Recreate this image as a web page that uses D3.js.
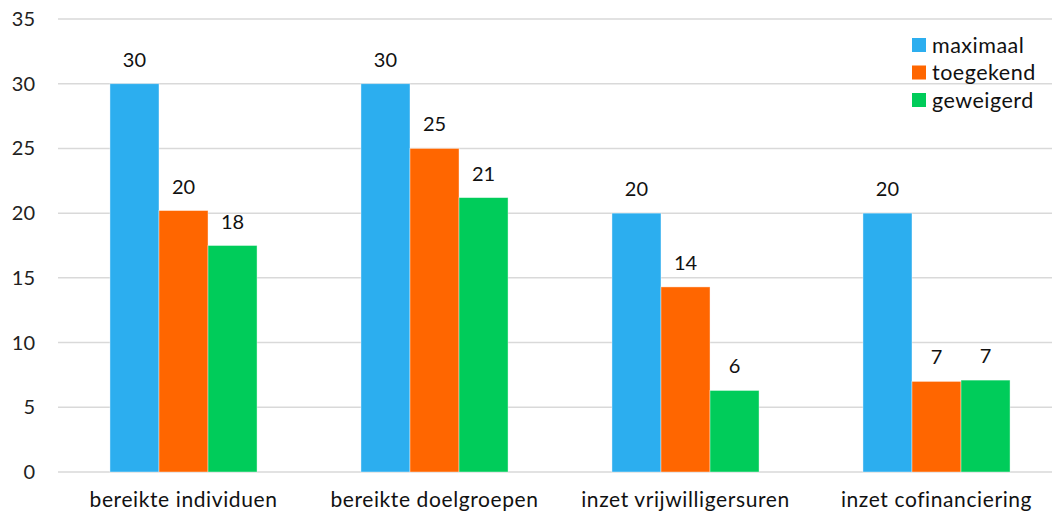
<!DOCTYPE html>
<html><head><meta charset="utf-8">
<script src="https://cdn.jsdelivr.net/npm/d3@7"></script>
<style>body{margin:0;background:#fff}svg{display:block;font-family:Lato,"Open Sans",sans-serif}</style>
</head><body><svg id="c" width="1052" height="516"></svg>
<script>
const categories = ["bereikte individuen","bereikte doelgroepen","inzet vrijwilligersuren","inzet cofinanciering"];
const seriesNames = ["maximaal","toegekend","geweigerd"];
const maximaal = [30, 30, 20, 20];
const toegekend = [20.2, 25, 14.3, 7.0];
const geweigerd = [17.5, 21.2, 6.3, 7.1];
const labels = [["30","20","18"],["30","25","21"],["20","14","6"],["20","7","7"]];
const colors = ["#2caeef","#ff6600","#00cc5a"];
const yTicks = [0,5,10,15,20,25,30,35];

(function(){
const svg = d3.select("#c");
const pLeft = 58, pRight = 1062, pTop = 19, pBottom = 472;
const x0 = d3.scaleBand().domain(categories).range([pLeft, pRight]).paddingInner(0.414).paddingOuter(0.207);
const x1 = d3.scaleBand().domain(seriesNames).range([0, x0.bandwidth()]);
const y = d3.scaleLinear().domain([0,35]).range([pBottom, pTop]);

svg.append("g").selectAll("line").data(yTicks).join("line")
  .attr("x1", pLeft).attr("x2", 1052).attr("y1", d=>y(d)).attr("y2", d=>y(d))
  .attr("stroke", "#d9d9d9").attr("stroke-width", 1.5);

svg.append("g").selectAll("text").data(yTicks).join("text")
  .attr("x", 35).attr("y", d=>y(d)).attr("dy","0.35em").attr("text-anchor","end")
  .attr("font-size", 20).attr("fill","#222").text(d=>d);

const data = categories.map((c,i)=>({c, vals:[maximaal[i],toegekend[i],geweigerd[i]], labs:labels[i]}));
const g = svg.append("g").selectAll("g").data(data).join("g").attr("transform", d=>`translate(${x0(d.c)},0)`);
g.selectAll("rect").data(d=>d.vals.map((v,j)=>({v,j,s:seriesNames[j]}))).join("rect")
  .attr("x", d=>x1(d.s)).attr("width", x1.bandwidth())
  .attr("y", d=>y(d.v)).attr("height", d=>pBottom - y(d.v))
  .attr("fill", d=>colors[d.j]).attr("stroke","#fff").attr("stroke-opacity",0.5).attr("stroke-width",0.8);
g.selectAll("text").data(d=>d.vals.map((v,j)=>({v,j,s:seriesNames[j],l:d.labs[j]}))).join("text")
  .attr("x", d=>x1(d.s)+x1.bandwidth()/2).attr("y", d=>y(d.v)-17)
  .attr("text-anchor","middle").attr("font-size",20).attr("fill","#111").text(d=>d.l);

svg.append("g").selectAll("text").data(categories).join("text")
  .attr("x", d=>x0(d)+x0.bandwidth()/2).attr("y", 507).attr("text-anchor","middle")
  .attr("font-size",21).attr("letter-spacing",0.6).attr("fill","#111").text(d=>d);

const lg = svg.append("g").selectAll("g").data(seriesNames).join("g")
  .attr("transform",(d,i)=>`translate(912,${45+i*27.5})`);
lg.append("rect").attr("x",0).attr("y",-7).attr("width",14).attr("height",14).attr("fill",(d,i)=>colors[i]);
lg.append("text").attr("x",20).attr("y",0).attr("dy","0.35em").attr("font-size",21.5).attr("letter-spacing",0.5).attr("fill","#111").text(d=>d);
})();
</script></body></html>
